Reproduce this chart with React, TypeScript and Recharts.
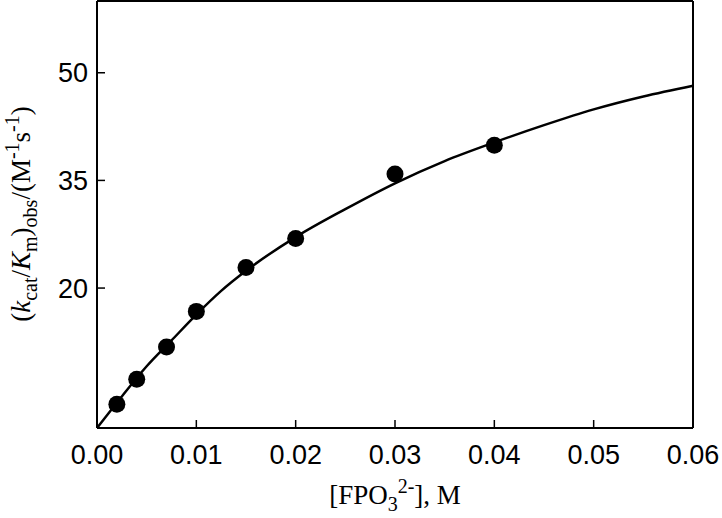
import React from "react";
import { ComposedChart, Line, Scatter, XAxis, YAxis, ReferenceLine } from "recharts";

// measured points
const concX = [0.002, 0.004, 0.007, 0.01, 0.015, 0.02, 0.03, 0.04];
const rateY = [3.8, 7.3, 11.8, 16.75, 22.85, 26.9, 35.9, 39.9];

// fitted curve
const fitX = [0, 0.0025, 0.005, 0.0075, 0.01, 0.0125, 0.015, 0.02, 0.025, 0.03, 0.035, 0.04, 0.045, 0.05, 0.055, 0.06];
const fitY = [0.5, 4.9, 9.1, 12.7, 16.3, 19.6, 22.4, 27.1, 31.0, 34.6, 37.7, 40.3, 42.7, 44.9, 46.7, 48.2];

const xTicks = [0, 0.01, 0.02, 0.03, 0.04, 0.05, 0.06];
const yTicks = [20, 35, 50];

const points = concX.map((x, i) => ({ x, y: rateY[i] }));
const fit = fitX.map((x, i) => ({ x, y: fitY[i] }));

const serif = "'Liberation Serif', 'Times New Roman', serif";
const sans = "'Liberation Sans', Arial, sans-serif";

const Dot = (props: any) => <circle cx={props.cx} cy={props.cy} r={8.5} fill="#000" />;

const XLabel = (props: any) => {
  const vb = props.viewBox || {};
  const cx = vb.x + vb.width / 2;
  return (
    <text x={cx} y={504} textAnchor="middle" fontFamily={serif} fontSize={27} fill="#000">
      <tspan>[FPO</tspan>
      <tspan fontSize={20} dy={7}>3</tspan>
      <tspan fontSize={20} dy={-18}>2-</tspan>
      <tspan dy={11}>], M</tspan>
    </text>
  );
};

const YLabel = () => {
  const cx = 30;
  const cy = 214;
  return (
    <text x={cx} y={cy} textAnchor="middle" fontFamily={serif} fontSize={27} fill="#000" transform={`rotate(-90, ${cx}, ${cy})`}>
      <tspan>(</tspan>
      <tspan fontStyle="italic">k</tspan>
      <tspan fontSize={20} dy={7}>cat</tspan>
      <tspan dy={-7}>/</tspan>
      <tspan fontStyle="italic">K</tspan>
      <tspan fontSize={20} dy={7}>m</tspan>
      <tspan dy={-7}>)</tspan>
      <tspan fontSize={20} dy={7}>obs</tspan>
      <tspan dy={-7}>/(M</tspan>
      <tspan fontSize={20} dy={-11}>-1</tspan>
      <tspan dy={11}>s</tspan>
      <tspan fontSize={20} dy={-11}>-1</tspan>
      <tspan dy={11}>)</tspan>
    </text>
  );
};

export default function App() {
  return (
    <div style={{ position: "absolute", left: 0, top: 0, background: "#fff" }}>
      <ComposedChart width={722} height={518} margin={{ top: 1, right: 29, left: 0, bottom: 0 }}>
        <XAxis
          type="number"
          dataKey="x"
          domain={[0, 0.06]}
          ticks={xTicks}
          tickFormatter={(v: number) => v.toFixed(2)}
          height={90}
          tickSize={-8}
          tickMargin={25}
          axisLine={{ stroke: "#000", strokeWidth: 2 }}
          tickLine={{ stroke: "#000", strokeWidth: 1.5 }}
          tick={{ fill: "#000", fontSize: 27, fontFamily: sans }}
          label={{ content: (p: any) => <XLabel {...p} /> }}
        />
        <YAxis
          type="number"
          domain={[0.5, 60]}
          ticks={yTicks}
          width={97}
          tickSize={-8}
          tickMargin={17}
          axisLine={{ stroke: "#000", strokeWidth: 2 }}
          tickLine={{ stroke: "#000", strokeWidth: 1.5 }}
          tick={{ fill: "#000", fontSize: 27, fontFamily: sans }}
          label={{ content: () => <YLabel /> }}
        />
        <ReferenceLine y={60} stroke="#000" strokeWidth={2} />
        <ReferenceLine x={0.06} stroke="#000" strokeWidth={2} />
        <Line data={fit} dataKey="y" type="monotone" stroke="#000" strokeWidth={2.5} dot={false} isAnimationActive={false} />
        <Scatter data={points} dataKey="y" fill="#000" shape={Dot} isAnimationActive={false} />
      </ComposedChart>
    </div>
  );
}
